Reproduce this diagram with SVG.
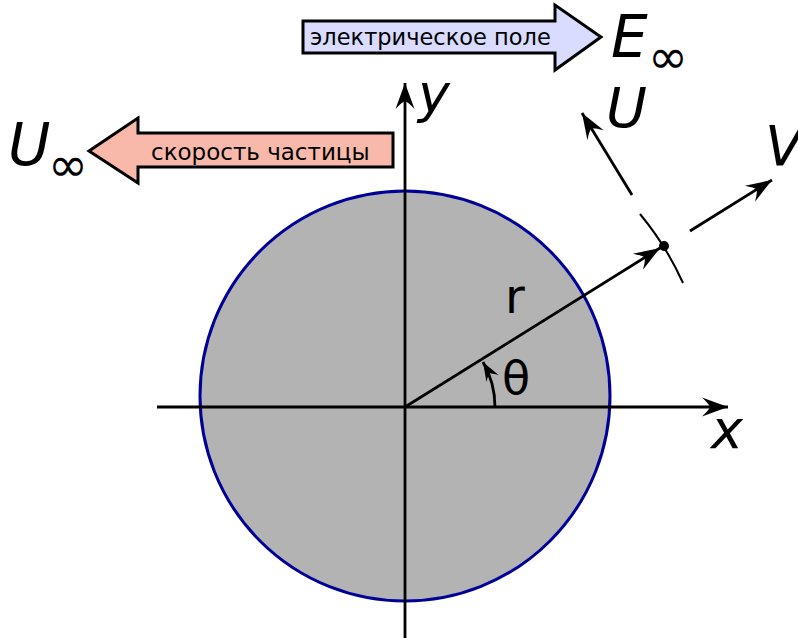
<svg xmlns="http://www.w3.org/2000/svg" width="798" height="638" viewBox="0 0 798 638">
<defs>
<marker id="ah" markerUnits="userSpaceOnUse" orient="auto" markerWidth="30" markerHeight="24" refX="0" refY="0" viewBox="-28 -12 30 24" overflow="visible">
<path d="M0,0 L-26,-9.5 Q-19,-3 -18,0 Q-19,3 -26,9.5 Z" fill="#000"/>
</marker>
<marker id="ahs" markerUnits="userSpaceOnUse" orient="auto" markerWidth="24" markerHeight="20" refX="0" refY="0" viewBox="-22 -10 24 20" overflow="visible">
<path d="M0,0 L-19,-7 Q-14,-2 -13,0 Q-14,2 -19,7 Z" fill="#000"/>
</marker>
<style>
.ax{stroke:#000;stroke-width:2.8;fill:none}
.lbl{font-family:"DejaVu Sans",Verdana,sans-serif;fill:#000}
.it{font-style:italic}
.blk{stroke:#000;stroke-width:3;stroke-linejoin:miter}
</style>
</defs>
<g id="circle">
<circle cx="405" cy="396" r="205" fill="#b3b3b3" stroke="#000099" stroke-width="3"/>
</g>
<g id="connectors">
<line class="ax" x1="157" y1="407" x2="728" y2="407" marker-end="url(#ah)"/>
<line class="ax" x1="405" y1="638" x2="405" y2="83" marker-end="url(#ah)"/>
<line class="ax" x1="405" y1="407" x2="660" y2="248" marker-end="url(#ah)"/>
<path class="ax" d="M495,407 A90,90 0 0,0 483,362" marker-end="url(#ahs)"/>
<path d="M640,214 A304,304 0 0,1 683,283" stroke="#000" stroke-width="2" fill="none"/>
<line class="ax" x1="632" y1="195" x2="582" y2="113" marker-end="url(#ah)"/>
<line class="ax" x1="690" y1="231" x2="772" y2="180" marker-end="url(#ah)"/>
<circle cx="664" cy="246" r="5" fill="#000"/>
</g>
<g id="field-arrow">
<path class="blk" d="M303,21 L555,21 L555,5 L601,37 L555,70 L555,53 L303,53 Z" fill="#d9dcff"/>
<text class="lbl" x="310" y="45" font-size="22.5">электрическое поле</text>
</g>
<g id="speed-arrow">
<path class="blk" d="M393,133 L138,133 L138,118 L89,151 L138,183 L138,167 L393,167 Z" fill="#f9b9aa"/>
<text class="lbl" x="151" y="160" font-size="23">скорость частицы</text>
</g>
<g id="labels">
<text class="lbl it" x="611" y="57" font-size="58">E</text>
<text class="lbl" x="648" y="73" font-size="48">∞</text>
<text class="lbl it" x="8" y="165" font-size="58">U</text>
<text class="lbl" x="48" y="181" font-size="48">∞</text>
<text class="lbl it" x="606" y="127" font-size="56">U</text>
<text class="lbl it" x="765" y="165" font-size="56">V</text>
<text class="lbl it" x="418" y="112" font-size="54">y</text>
<text class="lbl it" x="711" y="448" font-size="54">x</text>
<text class="lbl" x="505" y="313" font-size="48">r</text>
<text class="lbl" x="502" y="394" font-size="46">θ</text>
</g>
</svg>
